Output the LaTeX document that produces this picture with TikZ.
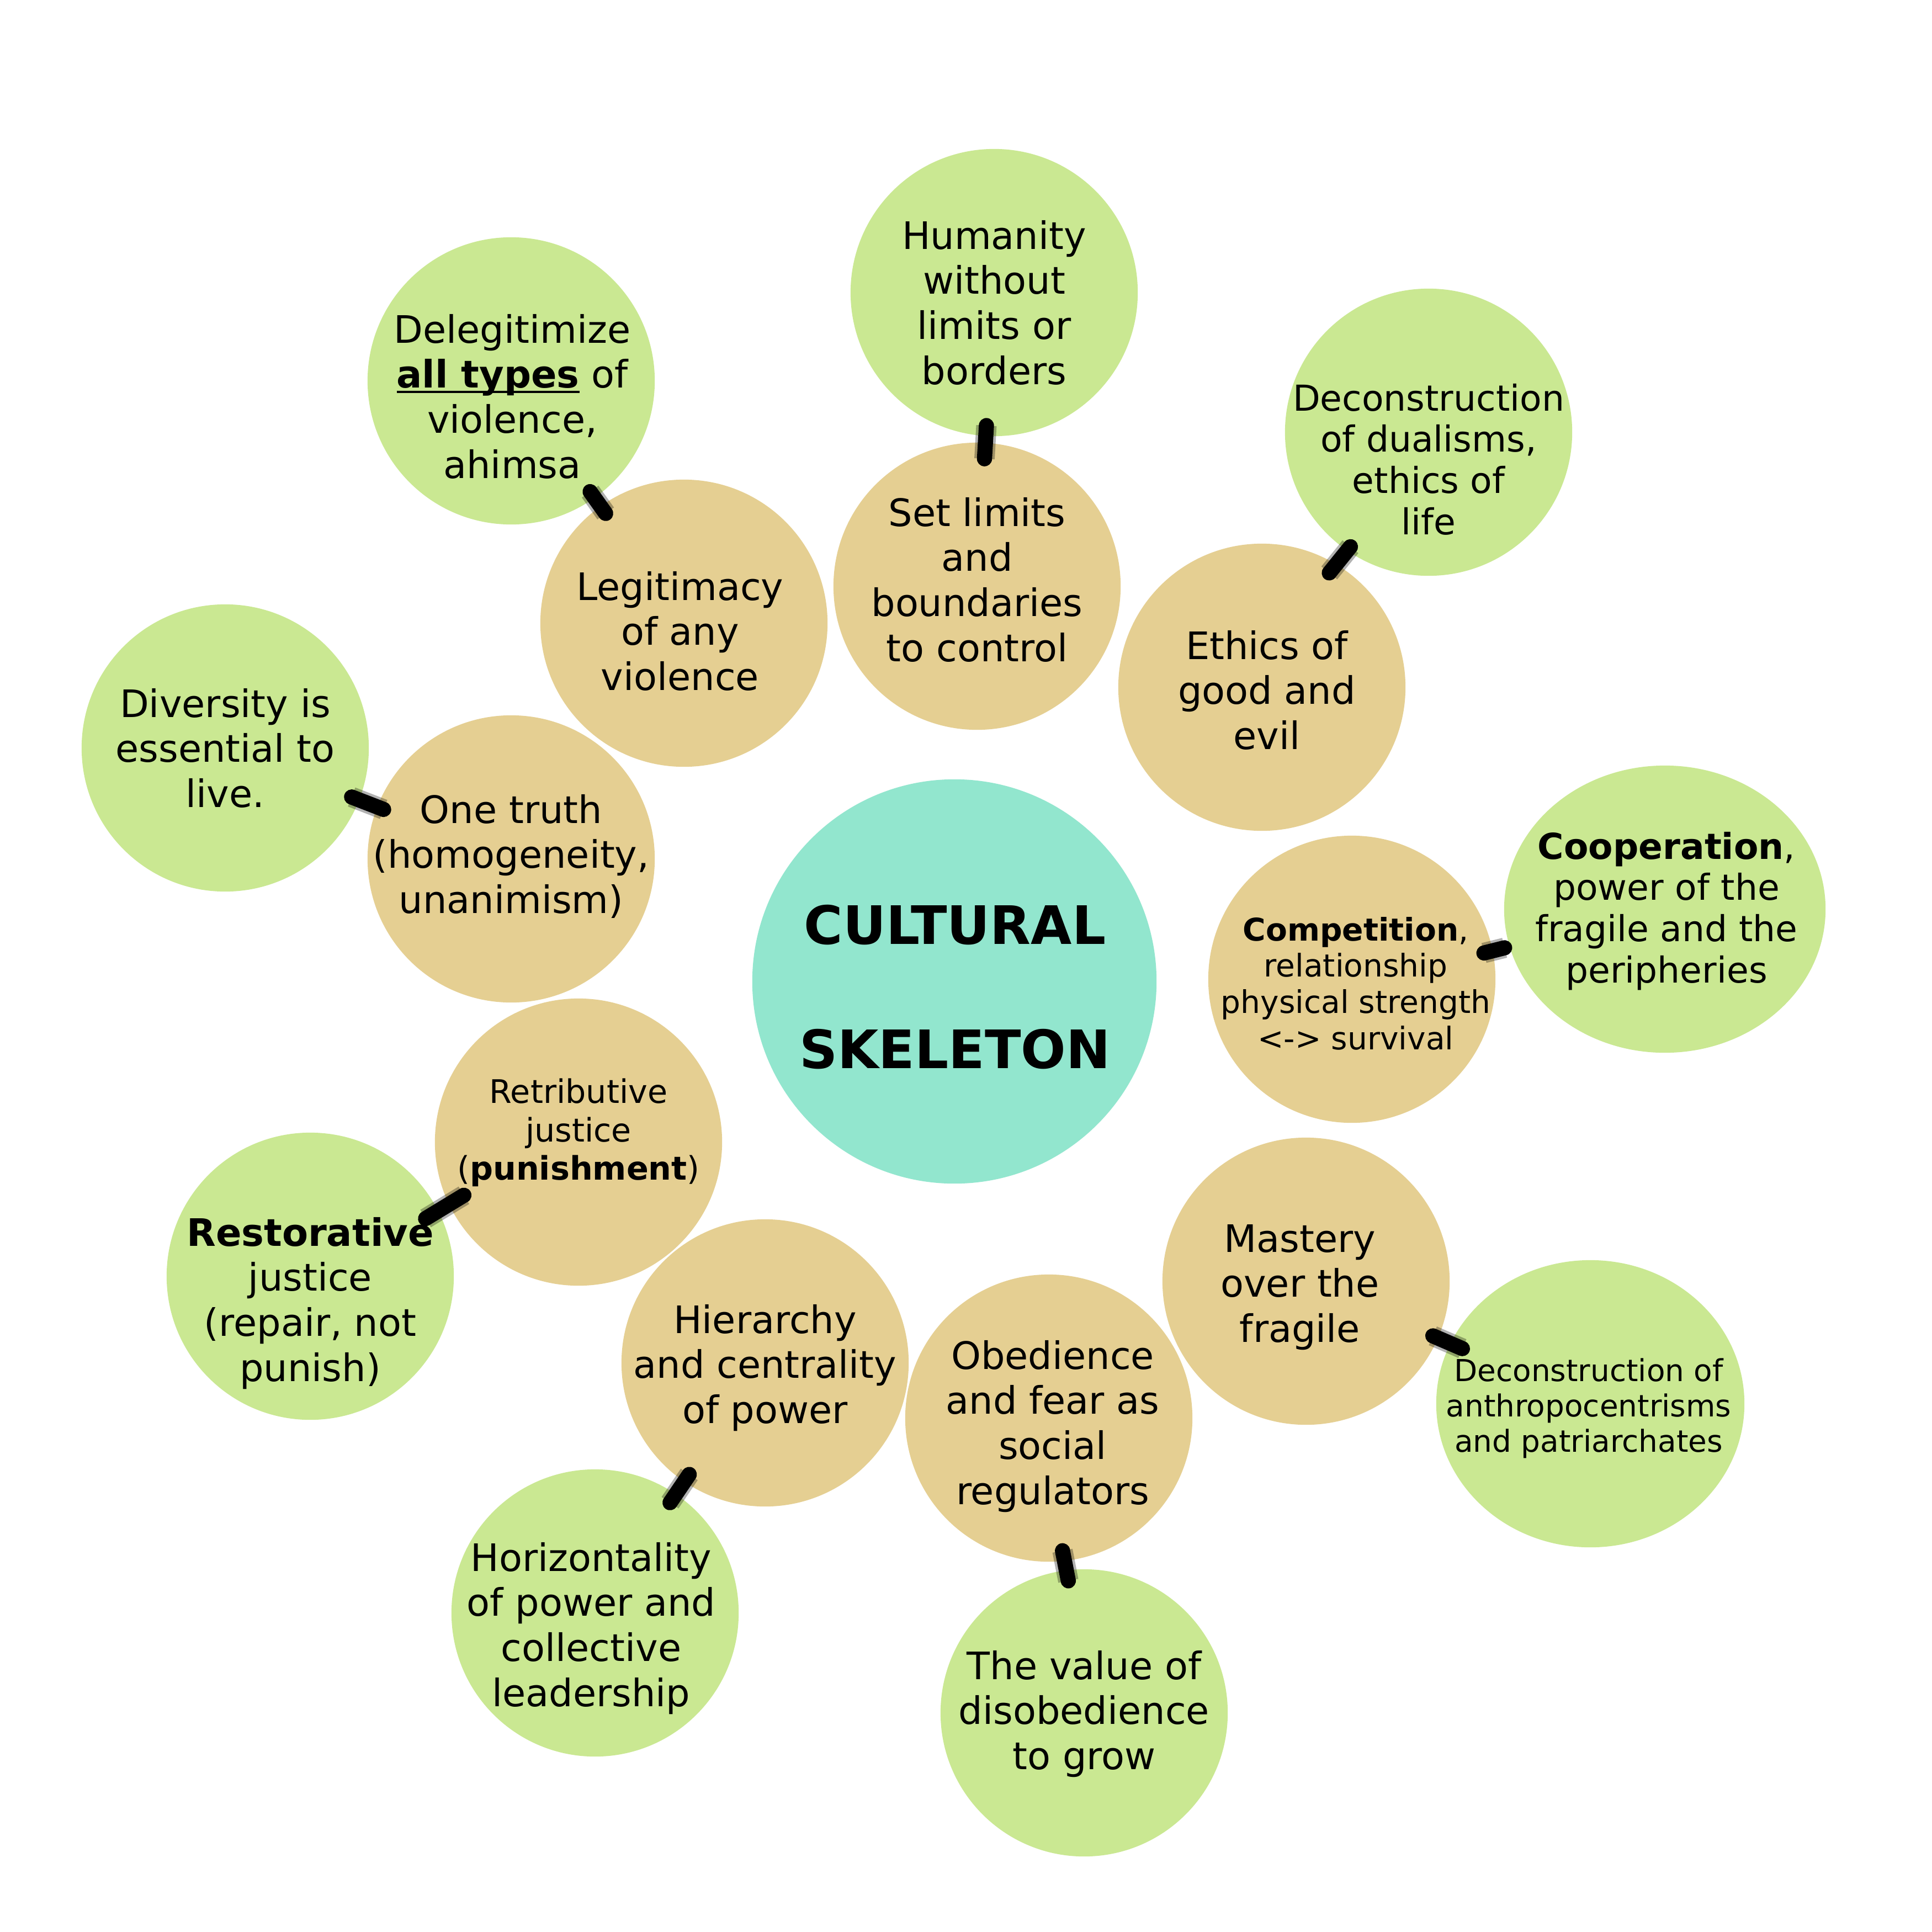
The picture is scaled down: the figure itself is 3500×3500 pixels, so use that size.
\documentclass[tikz,border=0pt]{standalone}
\usepackage{fontspec}
\setmainfont{DejaVu Sans}
\usetikzlibrary{calc,shapes.geometric}
\definecolor{cgreen}{RGB}{202,232,146}
\definecolor{ctan}{RGB}{229,207,146}
\definecolor{cteal}{RGB}{146,230,206}
\newcommand\myul[1]{\setbox0\hbox{#1}\rlap{\rule[-2.6pt]{\wd0}{1.1pt}}\box0\relax}
\newcommand\mlines[1]{\begin{tabular}[t]{@{}c@{}}#1\end{tabular}}
\begin{document}
\begin{tikzpicture}[x=0.01cm,y=-0.01cm,
  circ/.style={circle,inner sep=0pt,minimum size=5.2cm},
  gc/.style={circ,fill=cgreen},
  tc/.style={circ,fill=ctan},
  ge/.style={ellipse,inner sep=0pt,fill=cgreen,minimum height=5.2cm},
  conn/.style={line width=7.8pt,line cap=round,black,
    preaction={draw=black,draw opacity=0.3,line width=10.5pt}},
  txt/.style={anchor=base,inner sep=0pt},
  fA/.style={font=\fontsize{19.5}{23.3}\selectfont},
  fB/.style={font=\fontsize{18.4}{21.3}\selectfont},
  fC/.style={font=\fontsize{16.1}{18.7}\selectfont},
  fD/.style={font=\fontsize{16.7}{19.9}\selectfont},
  fE/.style={font=\fontsize{15.6}{18.2}\selectfont},
  fM/.style={font=\fontsize{27.3}{64}\selectfont\bfseries}]
\useasboundingbox (0,0) rectangle (3500,3500);
\fill[white] (0,0) rectangle (3500,3500);

% central node
\node[circle,inner sep=0pt,minimum size=7.32cm,fill=cteal] (c0) at (1729,1778) {};

% green circles
\node[gc] (g1) at (1801,530) {};
\node[gc] (g2) at (926,690) {};
\node[gc] (g3) at (2588,783) {};
\node[gc] (g4) at (408,1355) {};
\node[ge,minimum width=5.82cm] (g5) at (3016,1647) {};
\node[gc] (g6) at (562,2312) {};
\node[gc] (g7) at (1078,2922) {};
\node[gc] (g8) at (1964,3103) {};
\node[ge,minimum width=5.58cm] (g9) at (2881,2543) {};

% tan circles
\node[tc] (k1) at (1770,1062) {};
\node[tc] (k2) at (1239,1129) {};
\node[tc] (k3) at (2286,1245) {};
\node[tc] (k4) at (926,1556) {};
\node[tc] (k5) at (2449,1774) {};
\node[tc] (k6) at (1048,2069) {};
\node[tc] (k7) at (1386,2469) {};
\node[tc] (k8) at (1900,2569) {};
\node[tc] (k9) at (2366,2321) {};

% connectors
\draw[conn] ($(g1)!0.453!(k1)$) -- ($(g1)!0.566!(k1)$);
\draw[conn] ($(g2)!0.457!(k2)$) -- ($(g2)!0.547!(k2)$);
\draw[conn] ($(k3)!0.444!(g3)+(-12,-2)$) -- ($(k3)!0.551!(g3)+(-6,0)$);
\draw[conn] ($(g4)!0.442!(k4)$) -- ($(g4)!0.554!(k4)$);
\draw[conn] ($(k5)!0.422!(g5)+(0,6)$) -- ($(k5)!0.488!(g5)+(0,5)$);
\draw[conn] ($(k6)!0.421!(g6)+(-3,-6)$) -- ($(k6)!0.570!(g6)$);
\draw[conn] ($(k7)!0.446!(g7)$) -- ($(k7)!0.559!(g7)$);
\draw[conn] ($(k8)!0.450!(g8)+(-4,0)$) -- ($(k8)!0.552!(g8)$);
\draw[conn] ($(k9)!0.446!(g9)$) -- ($(k9)!0.550!(g9)$);

% texts
\node[txt,fM] (x0) at (1730,1710) {\mlines{CULTURAL\\SKELETON}};

\node[txt,fA] (x1) at (1801,451) {\mlines{Humanity\\without\\limits or\\borders}};
\node[txt,fA] (x2) at (928,621) {\mlines{Delegitimize\\\myul{\textbf{all types}} of\\violence,\\ahimsa}};
\node[txt,fB] (x3) at (2588,744) {\mlines{Deconstruction\\of dualisms,\\ethics of\\life}};
\node[txt,fA] (x4) at (408,1299) {\mlines{Diversity is\\essential to\\live.}};
\node[txt,fB] (x5) at (3019,1556) {\mlines{\textbf{Cooperation},\\power of the\\fragile and the\\peripheries}};
\node[txt,fA] (x6) at (562,2257) {\mlines{\textbf{Restorative}\\justice\\(repair, not\\punish)}};
\node[txt,fA] (x7) at (1071,2846) {\mlines{Horizontality\\of power and\\collective\\leadership}};
\node[txt,fA] (x8) at (1964,3042) {\mlines{The value of\\disobedience\\to grow}};
\node[txt,fE] (x9) at (2878,2502) {\mlines{Deconstruction of\\anthropocentrisms\\and patriarchates}};

\node[txt,fA] (y1) at (1770,953) {\mlines{Set limits\\and\\boundaries\\to control}};
\node[txt,fA] (y2) at (1232,1087) {\mlines{Legitimacy\\of any\\violence}};
\node[txt,fA] (y3) at (2295,1194) {\mlines{Ethics of\\good and\\evil}};
\node[txt,fA] (y4) at (926,1491) {\mlines{One truth\\(homogeneity,\\unanimism)}};
\node[txt,fC] (y5) at (2456,1704) {\mlines{\textbf{Competition},\\relationship\\physical strength\\<-> survival}};
\node[txt,fD] (y6) at (1048,1998) {\mlines{Retributive\\justice\\(\textbf{punishment})}};
\node[txt,fA] (y7) at (1386,2415) {\mlines{Hierarchy\\and centrality\\of power}};
\node[txt,fA] (y8) at (1907,2480) {\mlines{Obedience\\and fear as\\social\\regulators}};
\node[txt,fA] (y9) at (2355,2268) {\mlines{Mastery\\over the\\fragile}};
\end{tikzpicture}
\end{document}
